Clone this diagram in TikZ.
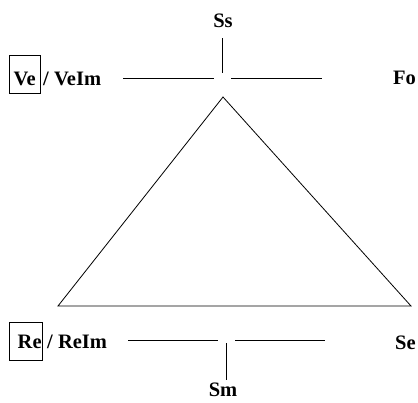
\documentclass[tikz,border=0pt]{standalone}
\usepackage{fontspec}
\setmainfont{Liberation Serif}
\begin{document}
\begin{tikzpicture}[x=1pt,y=-1pt,
  lbl/.style={inner sep=0pt,font=\fontsize{20.5}{24}\selectfont\bfseries},
  boxframe/.style={draw,line width=0.7pt,inner sep=0pt},
  ln/.style={line width=0.8pt}]
\useasboundingbox (0,0) rectangle (418,402);
% labels
\node[lbl,anchor=base] (ss) at (223,27) {Ss};
\node[lbl,anchor=base west] (fo) at (393,84) {Fo};
\node[lbl,anchor=base west] (se) at (395,349) {Se};
\node[lbl,anchor=base] (sm) at (223,396.5) {Sm};
\node[boxframe,minimum width=31pt,minimum height=38pt] (vebox) at (24.5,74) {};
\node[lbl,anchor=base west] (ve) at (13.5,85) {Ve};
\node[lbl,anchor=base west] (veim) at (43,85) {/ VeIm};
\node[boxframe,minimum width=33pt,minimum height=38pt] (rebox) at (25.5,341) {};
\node[lbl,anchor=base west] (re) at (17.5,348) {Re};
\node[lbl,anchor=base west] (reim) at (47,348) {/ ReIm};
% top T
\coordinate (tv1) at (222.5,38);
\coordinate (tv2) at (222.5,73);
\coordinate (tl1) at (123,78);
\coordinate (tl2) at (214,78);
\coordinate (tr1) at (231,78);
\coordinate (tr2) at (322,78);
\draw[ln] (tv1) -- (tv2);
\draw[ln] (tl1) -- (tl2);
\draw[ln] (tr1) -- (tr2);
% bottom T
\coordinate (bv1) at (226,343);
\coordinate (bv2) at (226,380);
\coordinate (bl1) at (128,340.5);
\coordinate (bl2) at (218,340.5);
\coordinate (br1) at (235,340.5);
\coordinate (br2) at (325,340.5);
\draw[ln] (bv1) -- (bv2);
\draw[ln] (bl1) -- (bl2);
\draw[ln] (br1) -- (br2);
% triangle
\coordinate (apex) at (223,97);
\coordinate (left) at (58,306);
\coordinate (right) at (411,306);
\draw[ln] (apex) -- (left) -- (right) -- cycle;
\end{tikzpicture}
\end{document}
